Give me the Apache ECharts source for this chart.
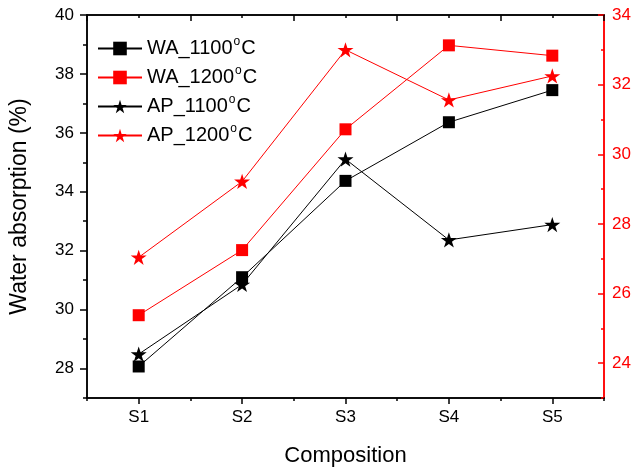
<!DOCTYPE html>
<html><head><meta charset="utf-8">
<script src="https://cdn.jsdelivr.net/npm/echarts@6/dist/echarts.min.js"></script>
<style>html,body{margin:0;padding:0;background:#fff}#c{width:635px;height:472px}</style>
</head><body><div id="c"></div>
<script>
const categories = ['S1','S2','S3','S4','S5'];
const wa1100 = [28.07, 31.10, 34.37, 36.36, 37.45];
const wa1200 = [29.81, 32.02, 36.12, 38.97, 38.62];
const ap1100 = [24.26, 26.26, 29.86, 27.54, 27.98];
const ap1200 = [27.04, 29.22, 33.00, 31.56, 32.25];
const leftMajor = [28, 30, 32, 34, 36, 38, 40];
const leftMinor = [27, 29, 31, 33, 35, 37, 39];
const rightMajor = [24, 26, 28, 30, 32, 34];
const rightMinor = [23, 25, 27, 29, 31, 33];

const FONT = 'Liberation Sans, Arial, sans-serif';
const STAR = 'path://M50,0 L61.2,34.5 L97.6,34.5 L68.2,55.9 L79.4,90.5 L50,69.1 L20.6,90.5 L31.8,55.9 L2.4,34.5 L38.8,34.5 Z';
const BLACK = '#000000', RED = '#ff0000';

const chart = echarts.init(document.getElementById('c'));
const lineW = 1.5;
function catAxis(pos, tickLen, inside, align, extra) {
  return Object.assign({
    type: 'category', position: pos, data: categories, boundaryGap: true,
    axisLine: {show: true, onZero: false, lineStyle: {color: BLACK, width: lineW}},
    axisTick: {show: true, inside: inside, length: tickLen, alignWithLabel: align, lineStyle: {color: BLACK, width: lineW}},
    axisLabel: {show: false}, splitLine: {show: false}
  }, extra || {});
}
function valAxis(pos, min, max, color, tickVals, tickLen, inside, labelVals, extra) {
  return Object.assign({
    type: 'value', position: pos, min: min, max: max,
    axisLine: {show: true, onZero: false, lineStyle: {color: color, width: lineW}},
    axisTick: {show: true, inside: inside, length: tickLen, customValues: tickVals, lineStyle: {color: color, width: lineW}},
    axisLabel: labelVals ? {show: true, customValues: labelVals, color: color, fontSize: 17, fontFamily: FONT, margin: pos === 'left' ? 13 : 8} : {show: false},
    splitLine: {show: false}
  }, extra || {});
}
const nameFmt = {
  'WA_1100': '{n|WA_1100}{s|o}{n|C}',
  'WA_1200': '{n|WA_1200}{s|o}{n|C}',
  'AP_1100': '{n|AP_1100}{s|o}{n|C}',
  'AP_1200': '{n|AP_1200}{s|o}{n|C}'
};
chart.setOption({
  animation: false,
  backgroundColor: '#fff',
  grid: {left: 86, right: 31, top: 15, bottom: 70, containLabel: false},
  legend: {
    orient: 'vertical', left: 92, top: 31, itemWidth: 44, itemHeight: 17, itemGap: 4,
    data: ['WA_1100','WA_1200','AP_1100','AP_1200'],
    formatter: n => nameFmt[n],
    textStyle: {fontFamily: FONT, rich: {
      n: {fontSize: 20, fontFamily: FONT, color: BLACK, lineHeight: 22},
      s: {fontSize: 12, fontFamily: FONT, color: BLACK, lineHeight: 22, padding: [0, 1, 13, 1]}
    }}
  },
  xAxis: [
    catAxis('bottom', 6, false, true, {
      axisLabel: {show: true, fontSize: 17, fontFamily: FONT, color: BLACK, margin: 11},
      name: 'Composition', nameLocation: 'middle', nameGap: 47,
      nameTextStyle: {fontSize: 22, fontFamily: FONT, color: BLACK}
    }),
    catAxis('bottom', 3, false, false),
    catAxis('top', 6, true, false),
    catAxis('top', 3, true, true)
  ],
  yAxis: [
    valAxis('left', 27, 40, BLACK, leftMajor, 7, false, leftMajor, {
      name: 'Water absorption (%)', nameLocation: 'middle', nameGap: 56, nameRotate: 90,
      nameTextStyle: {fontSize: 23, fontFamily: FONT, color: BLACK}
    }),
    valAxis('left', 27, 40, BLACK, leftMinor, 4, false, null),
    valAxis('right', 23, 34, RED, rightMajor, 6, true, rightMajor),
    valAxis('right', 23, 34, RED, rightMinor, 3, true, null)
  ],
  series: [
    {name: 'WA_1100', type: 'line', data: wa1100, xAxisIndex: 0, yAxisIndex: 0, symbol: 'rect', symbolSize: 12,
     lineStyle: {color: BLACK, width: 1}, itemStyle: {color: BLACK}},
    {name: 'WA_1200', type: 'line', data: wa1200, xAxisIndex: 0, yAxisIndex: 0, symbol: 'rect', symbolSize: 12,
     lineStyle: {color: RED, width: 1}, itemStyle: {color: RED}},
    {name: 'AP_1100', type: 'line', data: ap1100, xAxisIndex: 0, yAxisIndex: 2, symbol: STAR, symbolSize: 16, symbolKeepAspect: true,
     lineStyle: {color: BLACK, width: 1}, itemStyle: {color: BLACK}},
    {name: 'AP_1200', type: 'line', data: ap1200, xAxisIndex: 0, yAxisIndex: 2, symbol: STAR, symbolSize: 16, symbolKeepAspect: true,
     lineStyle: {color: RED, width: 1}, itemStyle: {color: RED}}
  ]
});
</script></body></html>
